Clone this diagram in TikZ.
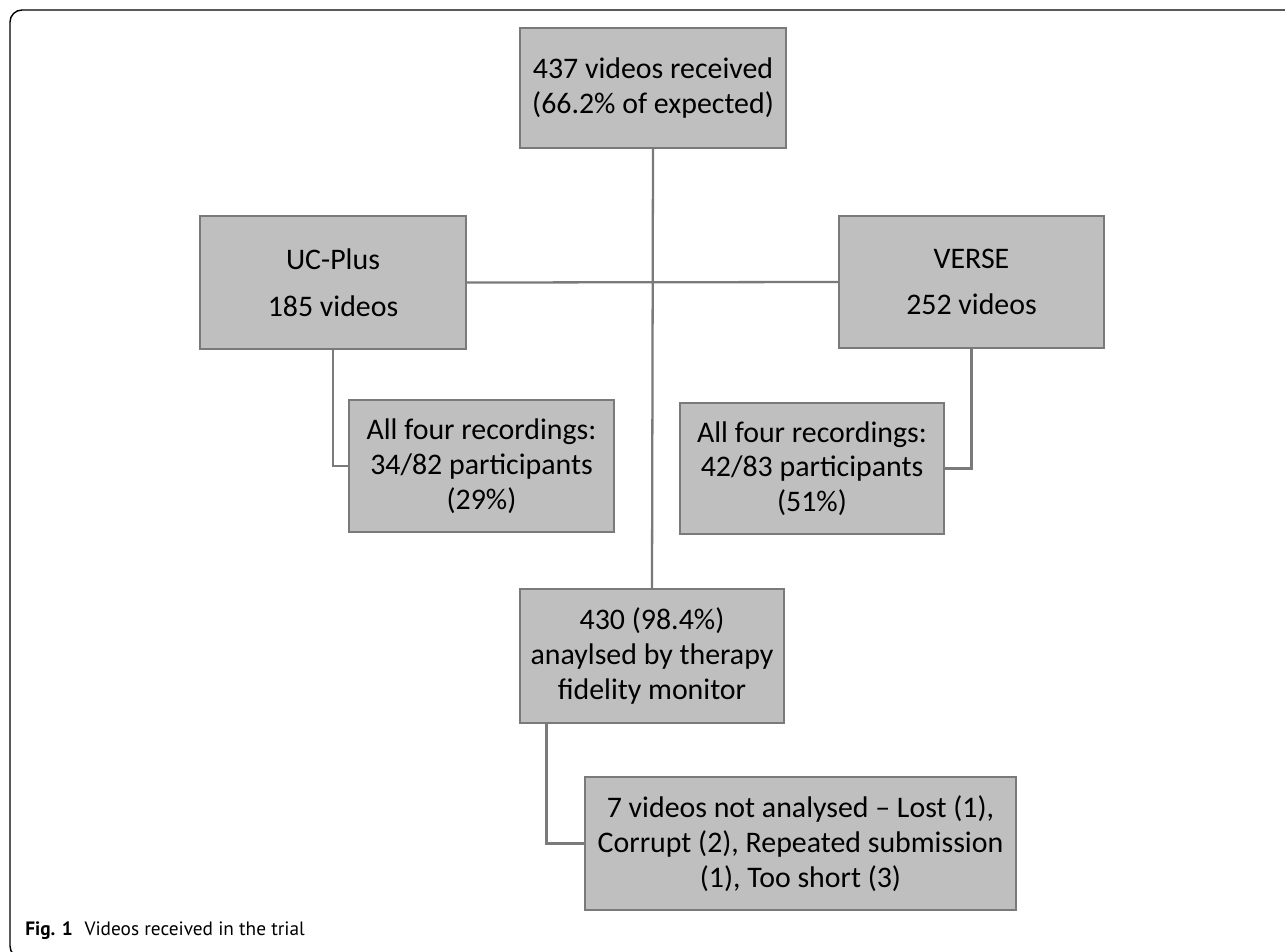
\documentclass[tikz,border=0pt]{standalone}
\usepackage{fontspec}
\setmainfont{Carlito}
\newfontfamily\capfont{PT Sans}
\usetikzlibrary{calc}
\definecolor{boxfill}{HTML}{BFBFBF}
\definecolor{boxline}{HTML}{7A7A7A}
\definecolor{linkline}{HTML}{7A7A7A}

\begin{document}
\begin{tikzpicture}[x=0.02cm,y=-0.02cm]
	\tikzstyle{every node}=[font=\fontsize{17}{19.8}\selectfont]
	\tikzstyle{fbox}=[draw=boxline, fill=boxfill, line width=0.7pt, align=center, inner sep=0pt]
	\tikzstyle{link}=[draw=linkline, line width=1.3pt]
	
	\useasboundingbox (0,0) rectangle (1285,951);
	
	% frame of the figure
	\draw[line width=0.8pt, rounded corners=0.24cm] (1300,10) -- (10,10) -- (10,958) -- (40,958);
	
	% boxes
	\node[fbox, minimum width=5.32cm, minimum height=2.4cm] (recv) at (653,88) {437 videos received\\(66.2\% of expected)};
	\node[fbox, minimum width=5.32cm, minimum height=2.66cm] (uc) at (333,282.5) {UC-Plus\\[6.8pt]185 videos};
	\node[fbox, minimum width=5.3cm, minimum height=2.64cm] (verse) at (971.5,282) {VERSE\\[6.8pt]252 videos};
	\node[fbox, minimum width=5.3cm, minimum height=2.64cm] (allA) at (481.5,466) {All four recordings:\\34/82 participants\\(29\%)};
	\node[fbox, minimum width=5.28cm, minimum height=2.62cm] (allB) at (812,468.5) {All four recordings:\\42/83 participants\\(51\%)};
	\node[fbox, minimum width=5.28cm, minimum height=2.68cm] (anal) at (652,656) {430 (98.4\%)\\anaylsed by therapy\\fidelity monitor};
	\node[fbox, minimum width=8.62cm, minimum height=2.66cm] (lost) at (800.5,843.5) {7 videos not analysed -- Lost (1),\\Corrupt (2), Repeated submission\\(1), Too short (3)};
	
	% connectors
	\draw[link] (recv.south) -- (anal.north);
	\draw[link] (uc.east) -- (verse.west);
	\draw[link] (uc.south) |- (allA.west);
	\draw[link] (verse.south) |- (allB.east);
	\draw[link] ($(anal.south west)+(27,0)$) |- (lost.west);
	
	% caption
	\node[anchor=base west, inner sep=0pt, font=\capfont\fontsize{11}{13}\selectfont] (cap) at (25,935) {\textbf{Fig. 1}\hspace{0.6em}Videos received in the trial};
	
\end{tikzpicture}
\end{document}
